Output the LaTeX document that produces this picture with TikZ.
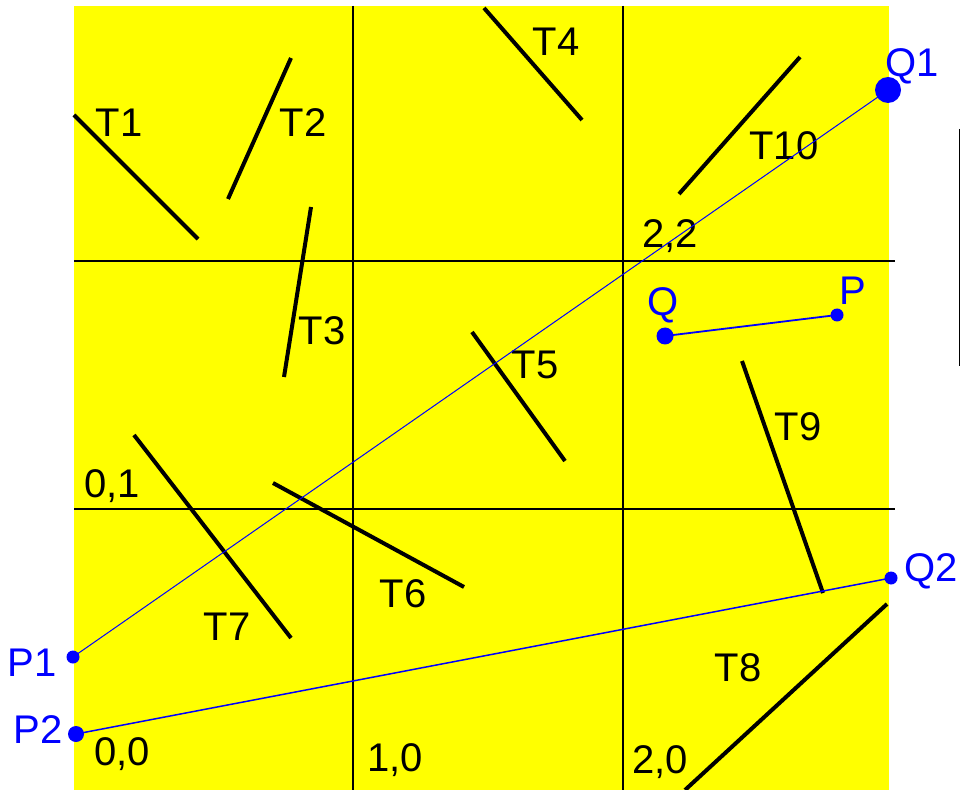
\documentclass[tikz,border=0pt]{standalone}
\usepackage{fontspec}
\setmainfont{Liberation Sans}
\definecolor{yel}{RGB}{255,255,0}
\definecolor{pblue}{RGB}{0,0,255}
\begin{document}
\begin{tikzpicture}[x=0.5pt,y=-0.5pt,
  gridline/.style={draw=black,line width=0.75pt},
  seg/.style={draw=black,line width=2pt},
  lab/.style={anchor=base,inner sep=0pt,font=\fontsize{20}{20}\selectfont},
  blab/.style={lab,text=pblue},
  dot/.style={circle,fill=pblue,inner sep=0pt,minimum size=#1},
  bline/.style={draw=pblue,line width=#1}]
\useasboundingbox (0,0) rectangle (961,790);
\fill[yel] (74,6) rectangle (889,790);
% grid
\draw[gridline] (353,6) -- (353,790);
\draw[gridline] (623,6) -- (623,790);
\draw[gridline] (74,261) -- (895,261);
\draw[gridline] (74,509) -- (895,509);
\draw[line width=0.75pt] (959.5,129) -- (959.5,366);
% segments
\coordinate (t1a) at (74,115);  \coordinate (t1b) at (198,239);
\coordinate (t2a) at (291,58);  \coordinate (t2b) at (228,199);
\coordinate (t3a) at (311,207); \coordinate (t3b) at (284,377);
\coordinate (t4a) at (484,8);   \coordinate (t4b) at (582,120);
\coordinate (t5a) at (472,332); \coordinate (t5b) at (565,461);
\coordinate (t6a) at (273,483); \coordinate (t6b) at (464,587);
\coordinate (t7a) at (134,435); \coordinate (t7b) at (291,638);
\coordinate (t8a) at (887,604); \coordinate (t8b) at (685,790);
\coordinate (t9a) at (742,361); \coordinate (t9b) at (823,593);
\coordinate (t10a) at (800,57); \coordinate (t10b) at (679,194);
\foreach \s in {t1,t2,t3,t4,t5,t6,t7,t8,t9,t10}
  \draw[seg] (\s a) -- (\s b);
% segment labels
\node[lab] (lT1) at (119,137) {T1};
\node[lab] (lT2) at (303,137) {T2};
\node[lab] (lT3) at (322,344) {T3};
\node[lab] (lT4) at (556,56) {T4};
\node[lab] (lT5) at (535,378) {T5};
\node[lab] (lT6) at (403,607) {T6};
\node[lab] (lT7) at (227,640) {T7};
\node[lab] (lT8) at (738,681) {T8};
\node[lab] (lT9) at (798,440) {T9};
\node[lab] (lT10) at (784,160) {T10};
% cell labels
\node[lab] (c01) at (112,497) {0,1};
\node[lab] (c22) at (670,248) {2,2};
\node[lab] (c00) at (122,765) {0,0};
\node[lab] (c10) at (395,771) {1,0};
\node[lab] (c20) at (660,773) {2,0};
% blue points
\node[dot=6.5pt] (P1) at (73,657) {};
\node[dot=8pt] (P2) at (76,734) {};
\node[dot=13pt] (Q1) at (888,90) {};
\node[dot=6.5pt] (Q2) at (891,578) {};
\node[dot=8.5pt] (Q) at (665,336) {};
\node[dot=6.5pt] (P) at (837,315) {};
\draw[bline=0.5pt] (P1.center) -- (Q1.center);
\draw[bline=0.75pt] (P2.center) -- (Q2.center);
\draw[bline=0.9pt] (Q.center) -- (P.center);
\node[blab] (lP1) at (32,676) {P1};
\node[blab] (lP2) at (38,743) {P2};
\node[blab] (lQ1) at (912,77) {Q1};
\node[blab] (lQ2) at (931,581) {Q2};
\node[blab] (lQ) at (663,315) {Q};
\node[blab] (lP) at (853,305) {P};
\end{tikzpicture}
\end{document}
